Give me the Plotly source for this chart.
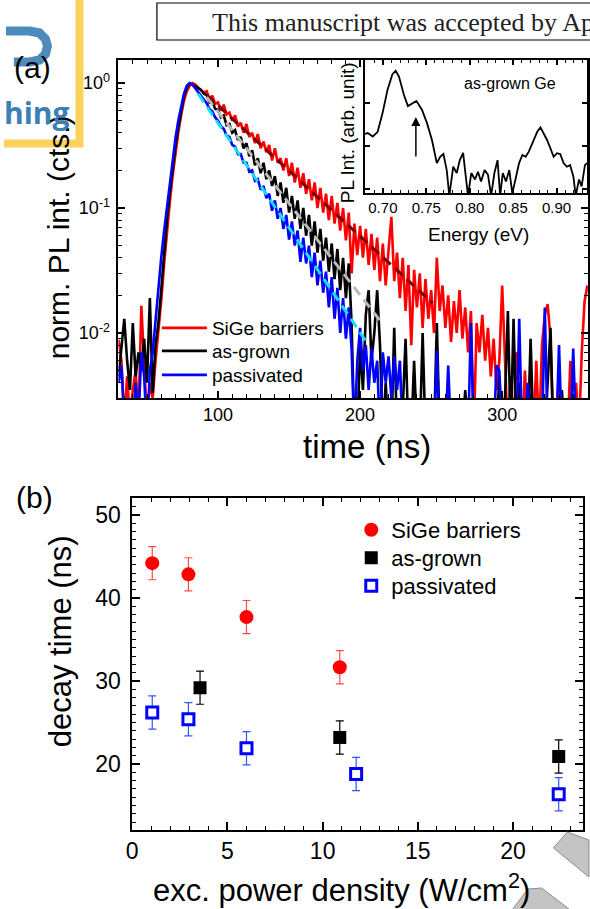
import plotly.graph_objects as go

W, H = 590, 909
FONT = "Liberation Sans, Arial, sans-serif"


def px(x):
    return x / W


def py(y):
    return 1 - y / H


# ---------------- panel (a): PL transients ----------------
time_ns = list(range(30, 362, 2))

pl_sige = [
    0.0088, 0.0060, 0.0020, 0.0045, 0.0020, 0.0035, 0.0050, 0.0020, 0.0165, 0.0060,
    0.0020, 0.0040, 0.0030, 0.0060, 0.0100, 0.0180, 0.035, 0.065, 0.11, 0.18,
    0.28, 0.40, 0.55, 0.72, 0.86, 0.95, 1.00, 0.97, 0.92, 0.88,
    0.84, 0.86, 0.74, 0.79, 0.68, 0.70, 0.60, 0.67, 0.56, 0.58,
    0.50, 0.55, 0.45, 0.48, 0.40, 0.47, 0.37, 0.40, 0.33, 0.39,
    0.30, 0.34, 0.28, 0.32, 0.24, 0.30, 0.23, 0.25, 0.20, 0.25,
    0.18, 0.23, 0.16, 0.21, 0.145, 0.19, 0.13, 0.17, 0.115, 0.16,
    0.10, 0.145, 0.092, 0.13, 0.080, 0.125, 0.075, 0.11, 0.066, 0.10,
    0.055, 0.092, 0.030, 0.075, 0.042, 0.072, 0.040, 0.068, 0.035, 0.062,
    0.032, 0.058, 0.026, 0.052, 0.024, 0.046, 0.085, 0.026, 0.044, 0.019,
    0.040, 0.015, 0.035, 0.008, 0.032, 0.016, 0.030, 0.011, 0.027, 0.013,
    0.022, 0.010, 0.040, 0.015, 0.024, 0.011, 0.020, 0.0085, 0.018, 0.010,
    0.022, 0.009, 0.016, 0.007, 0.015, 0.0015, 0.012, 0.007, 0.014, 0.006,
    0.011, 0.0045, 0.009, 0.0035, 0.006, 0.024, 0.004, 0.0015, 0.0045, 0.0015,
    0.007, 0.0035, 0.0015, 0.005, 0.0015, 0.004, 0.0015, 0.006, 0.0015, 0.008,
    0.014, 0.017, 0.009, 0.0015, 0.0015, 0.005, 0.0015, 0.003, 0.0015, 0.006,
    0.0015, 0.004, 0.0015, 0.007, 0.018, 0.024,
]

pl_asgrown = [
    0.0045, 0.0075, 0.013, 0.006, 0.0035, 0.012, 0.0045, 0.0070, 0.0050, 0.0090,
    0.0040, 0.019, 0.0033, 0.0080, 0.012, 0.022, 0.045, 0.08, 0.13, 0.21,
    0.31, 0.44, 0.60, 0.78, 0.92, 0.99, 0.97, 0.94, 0.92, 0.88,
    0.82, 0.80, 0.70, 0.71, 0.62, 0.61, 0.53, 0.55, 0.46, 0.47,
    0.40, 0.42, 0.35, 0.37, 0.30, 0.33, 0.26, 0.29, 0.22, 0.25,
    0.19, 0.23, 0.17, 0.20, 0.15, 0.18, 0.125, 0.16, 0.11, 0.145,
    0.092, 0.125, 0.082, 0.115, 0.068, 0.10, 0.060, 0.088, 0.050, 0.078,
    0.044, 0.068, 0.038, 0.058, 0.031, 0.052, 0.027, 0.047, 0.022, 0.040,
    0.019, 0.036, 0.012, 0.0015, 0.0015, 0.008, 0.0035, 0.014, 0.022, 0.006,
    0.010, 0.022, 0.008, 0.0015, 0.004, 0.0015, 0.0015, 0.011, 0.0015, 0.0015,
    0.0025, 0.009, 0.0015, 0.0015, 0.006, 0.0015, 0.0015, 0.010, 0.0015, 0.0015,
    0.0015, 0.0015, 0.012, 0.0015, 0.0015, 0.0025, 0.0015, 0.0015, 0.0015, 0.0015,
    0.0015, 0.0015, 0.0035, 0.0015, 0.0015, 0.0015, 0.0015, 0.0015, 0.0015, 0.0015,
    0.0015, 0.0015, 0.0025, 0.0015, 0.0045, 0.0015, 0.0030, 0.015, 0.0015, 0.013,
    0.0015, 0.0040, 0.0015, 0.0015, 0.0015, 0.009, 0.0015, 0.0015, 0.0015, 0.0015,
    0.0015, 0.0040, 0.011, 0.0015, 0.0015, 0.0015, 0.0035, 0.0015, 0.0015, 0.0015,
    0.0015, 0.0015, 0.0015, 0.0015, 0.0015, 0.0015,
]

pl_pass = [
    0.0040, 0.0055, 0.0020, 0.0015, 0.0030, 0.0015, 0.0040, 0.0020, 0.0070, 0.0045,
    0.0015, 0.0050, 0.0070, 0.013, 0.024, 0.040, 0.065, 0.10, 0.16, 0.25,
    0.36, 0.50, 0.66, 0.82, 0.95, 1.00, 0.97, 0.91, 0.85, 0.79,
    0.74, 0.69, 0.62, 0.59, 0.53, 0.50, 0.45, 0.43, 0.38, 0.37,
    0.32, 0.31, 0.27, 0.27, 0.23, 0.23, 0.195, 0.20, 0.165, 0.17,
    0.14, 0.15, 0.12, 0.13, 0.095, 0.115, 0.082, 0.10, 0.068, 0.088,
    0.056, 0.078, 0.050, 0.066, 0.037, 0.058, 0.036, 0.050, 0.028, 0.044,
    0.024, 0.038, 0.021, 0.031, 0.016, 0.028, 0.013, 0.023, 0.010, 0.019,
    0.009, 0.016, 0.0075, 0.0015, 0.006, 0.011, 0.005, 0.008, 0.0035, 0.0075,
    0.004, 0.006, 0.0015, 0.007, 0.004, 0.0065, 0.003, 0.0065, 0.0035, 0.006,
    0.0015, 0.0015, 0.0015, 0.0015, 0.0015, 0.0015, 0.0015, 0.0015, 0.0015, 0.0015,
    0.0015, 0.0015, 0.0072, 0.0015, 0.0015, 0.0015, 0.0055, 0.0015, 0.0015, 0.0015,
    0.0015, 0.0015, 0.0015, 0.0015, 0.012, 0.0015, 0.0015, 0.0015, 0.0015, 0.0015,
    0.0015, 0.0015, 0.0015, 0.0055, 0.0050, 0.0015, 0.0015, 0.0015, 0.0015, 0.0015,
    0.0015, 0.013, 0.0015, 0.0015, 0.0040, 0.0015, 0.0015, 0.0015, 0.0015, 0.0015,
    0.016, 0.0015, 0.0015, 0.0015, 0.0015, 0.008, 0.0015, 0.0015, 0.0015, 0.0015,
    0.0075, 0.0015, 0.0015, 0.0015, 0.0015, 0.0015,
]

# exponential fits (end points of the straight lines on the log scale)
fit_sige_t = [92, 251]
fit_sige_y = [0.80, 0.0174]
fit_asgrown_t = [92, 214.6]
fit_asgrown_y = [0.77, 0.0123]
fit_pass_t = [86, 206]
fit_pass_y = [0.82, 0.0080]

# inset: PL spectrum of as-grown Ge
energy_ev = [0.6795, 0.6826, 0.6883, 0.6940, 0.6997, 0.7053, 0.7110, 0.7148, 0.7186, 0.7242,
             0.7288, 0.7337, 0.7386, 0.7451, 0.7508, 0.7565, 0.7621, 0.7660, 0.7697, 0.7735,
             0.7765, 0.7810, 0.7850, 0.7886, 0.7924, 0.7950, 0.7980, 0.8018, 0.8060, 0.8095,
             0.8130, 0.8171, 0.8210, 0.8246, 0.8284, 0.8320, 0.8350, 0.8380, 0.8417, 0.8455,
             0.8490, 0.8530, 0.8568, 0.8606, 0.8644, 0.8680, 0.8739, 0.8777, 0.8814, 0.8852,
             0.8890, 0.8928, 0.8966, 0.9004, 0.9042, 0.9080, 0.9117, 0.9155, 0.9193, 0.9220,
             0.9258, 0.9288, 0.9326, 0.9350]
pl_spec = [19, 20, 16.6, 21.4, 59, 200, 468, 562, 407, 155,
           85, 98, 112, 69, 34, 13.8, 4.0, 5.6, 6.5, 2.75,
           0.7, 3.3, 2.35, 4.7, 6.9, 2.35, 0.7, 2.35, 1.66, 2.5,
           1.5, 2.75, 2.14, 0.7, 2.35, 4.7, 0.7, 2.35, 1.5, 2.75,
           0.8, 1.8, 4.0, 6.2, 5.6, 7.4, 13.8, 21.4, 27, 20,
           13.8, 8.9, 5.6, 6.8, 6.5, 4.0, 3.3, 3.6, 1.95, 0.7,
           1.66, 1.15, 3.6, 4.0]
arrow_energy = 0.738

# ---------------- panel (b): decay times ----------------
power_sige = [1.05, 2.95, 6.0, 10.9]
tau_sige = [44.2, 42.85, 37.7, 31.65]
err_sige = [2.0, 2.0, 2.0, 2.0]
power_asgrown = [3.56, 10.9, 22.4]
tau_asgrown = [29.2, 23.2, 20.9]
err_asgrown = [2.0, 2.0, 2.0]
power_pass = [1.05, 2.95, 6.0, 11.76, 22.4]
tau_pass = [26.2, 25.4, 21.9, 18.8, 16.35]
err_pass = [2.0, 2.0, 2.0, 2.0, 2.0]

RED, BLACK, BLUE = "#ff0000", "#000000", "#0000ff"

fig = go.Figure()

# transients (each legend entry gets its own legend box so rows can be placed freely)
for name, yv, col, lg in [("SiGe barriers", pl_sige, RED, "legend"),
                          ("as-grown", pl_asgrown, BLACK, "legend2"),
                          ("passivated", pl_pass, BLUE, "legend3")]:
    fig.add_trace(go.Scatter(x=time_ns, y=yv, mode="lines", name=name,
                             line=dict(color=col, width=2.6),
                             xaxis="x", yaxis="y", legend=lg))

for tx, ty, col in [(fit_sige_t, fit_sige_y, "#7a0000"),
                    (fit_asgrown_t, fit_asgrown_y, "#b9b9b9"),
                    (fit_pass_t, fit_pass_y, "#10e0f0")]:
    fig.add_trace(go.Scatter(x=tx, y=ty, mode="lines", showlegend=False,
                             line=dict(color=col, width=3, dash="10px,6px"),
                             xaxis="x", yaxis="y"))

# inset spectrum
fig.add_trace(go.Scatter(x=energy_ev, y=pl_spec, mode="lines", showlegend=False,
                         line=dict(color="black", width=1.8),
                         xaxis="x2", yaxis="y2"))

# decay times
fig.add_trace(go.Scatter(x=power_sige, y=tau_sige, mode="markers", name="SiGe barriers",
                         marker=dict(symbol="circle", size=14, color=RED),
                         error_y=dict(type="data", array=err_sige, color="#ff4a4a",
                                      thickness=1.2, width=4),
                         xaxis="x3", yaxis="y3", legend="legend4"))
fig.add_trace(go.Scatter(x=power_asgrown, y=tau_asgrown, mode="markers", name="as-grown",
                         marker=dict(symbol="square", size=13, color=BLACK),
                         error_y=dict(type="data", array=err_asgrown, color="#000000",
                                      thickness=1.2, width=4),
                         xaxis="x3", yaxis="y3", legend="legend5"))
fig.add_trace(go.Scatter(x=power_pass, y=tau_pass, mode="markers", name="passivated",
                         marker=dict(symbol="square", size=11, color="white",
                                     line=dict(color=BLUE, width=3)),
                         error_y=dict(type="data", array=err_pass, color="#3355ff",
                                      thickness=1.2, width=4),
                         xaxis="x3", yaxis="y3", legend="legend6"))

axis_common = dict(showline=True, linecolor="black", linewidth=1.5, mirror="ticks",
                   ticks="inside", tickcolor="black", tickwidth=1.5, showgrid=False,
                   zeroline=False)

y_minor_a = [0.002, 0.003, 0.004, 0.005, 0.006, 0.007, 0.008, 0.009,
             0.02, 0.03, 0.04, 0.05, 0.06, 0.07, 0.08, 0.09,
             0.2, 0.3, 0.4, 0.5, 0.6, 0.7, 0.8, 0.9]


def label(text, x, y, size, angle=0, color="black", family=FONT, xanchor="center"):
    return dict(text=text, x=px(x), y=py(y), xref="paper", yref="paper",
                xanchor=xanchor, yanchor="middle", showarrow=False, textangle=angle,
                font=dict(size=size, family=family, color=color))


annotations = [
    label("(a)", 27, 68, 30),
    label("(b)", 29, 497, 30),
    label("time (ns)", 366, 446, 33),
    label("norm. PL int. (cts.)", 54, 237, 30, angle=-90),
    label("Energy (eV)", 479, 234, 19),
    label("PL Int. (arb. unit)", 347, 133, 19, angle=-90),
    label("as-grown Ge", 511, 83, 16),
    label("exc. power density (W/cm<sup>2</sup>)", 340, 888, 31),
    label("decay time (ns)", 55, 641, 31, angle=-90),
    label("This manuscript was accepted by Appl. Phys. Lett.", 207, 22, 26,
          family="Liberation Serif, Times New Roman, serif", color="#222", xanchor="left"),
    label("<b>hing</b>", 67, 112, 30, color="#3a7fb5",
          family="Open Sans, Liberation Sans, sans-serif", xanchor="right"),
    dict(text="", x=arrow_energy, y=1.674, xref="x2", yref="y2",
         ax=arrow_energy, ay=0.72, axref="x2", ayref="y2", showarrow=True,
         arrowhead=2, arrowsize=1.2, arrowwidth=1.5, arrowcolor="black"),
]


def path(points):
    return "M " + " L ".join(f"{px(x):.5f},{py(y):.5f}" for x, y in points)


shapes = [
    dict(type="rect", xref="paper", yref="paper", x0=px(153), x1=px(640), y0=py(40), y1=py(3),
         line=dict(color="black", width=1.2), layer="above"),
    dict(type="path", xref="paper", yref="paper", path=path([(74.5, -2), (74.5, 143.5), (-2, 143.5)]),
         line=dict(color="#fcd25c", width=8), layer="above"),
    dict(type="path", xref="paper", yref="paper",
         path=path([(0, 31), (24, 31), (34, 33), (40, 39), (42, 46), (40, 54), (34, 60), (24, 62), (8, 62)]),
         line=dict(color="#3a7fb5", width=9), opacity=0.9, layer="above"),
    dict(type="path", xref="paper", yref="paper",
         path=path([(555, 848), (569, 832), (591, 840), (591, 877)]) + " Z",
         fillcolor="#c4c4c4", line=dict(color="#8c8c8c", width=1), layer="above"),
    dict(type="path", xref="paper", yref="paper",
         path=path([(513, 910), (529, 889), (543, 888), (572, 910)]) + " Z",
         fillcolor="#c4c4c4", line=dict(color="#8c8c8c", width=1), layer="above"),
]


def legend_at(x, y, size, itemwidth=30):
    return dict(x=px(x), y=py(y), xanchor="left", yanchor="middle", bgcolor="rgba(0,0,0,0)",
                font=dict(size=size), itemwidth=itemwidth, tracegroupgap=0, borderwidth=0)


fig.update_layout(
    width=W, height=H, autosize=False,
    margin=dict(l=0, r=0, t=0, b=0),
    paper_bgcolor="white", plot_bgcolor="white",
    font=dict(family=FONT, color="black"),
    xaxis=dict(axis_common, domain=[px(114), 1.0], range=[29.9, 360.4], anchor="y",
               dtick=100, tick0=0, ticklen=7, tickfont=dict(size=18),
               minor=dict(ticks="inside", dtick=10, tick0=0, ticklen=4, tickcolor="black", tickwidth=1.2)),
    yaxis=dict(axis_common, type="log", domain=[py(398), py(60)], range=[-2.52, 0.184], anchor="x",
               tickvals=[0.01, 0.1, 1], ticktext=["10<sup>-2</sup>", "10<sup>-1</sup>", "10<sup>0</sup>"],
               ticklen=7, tickfont=dict(size=18), ticklabelstandoff=3,
               minor=dict(ticks="inside", tickmode="array", tickvals=y_minor_a, ticklen=4,
                          tickcolor="black", tickwidth=1.2)),
    xaxis2=dict(axis_common, domain=[px(364), px(589)], range=[0.6795, 0.935], anchor="y2",
                dtick=0.05, tick0=0.7, tickformat=".2f", ticklen=5, tickfont=dict(size=15),
                minor=dict(ticks="inside", dtick=0.01, ticklen=3, tickcolor="black", tickwidth=1)),
    yaxis2=dict(axis_common, type="log", domain=[py(193), py(60)], range=[-0.093, 3.0], anchor="x2",
                tickvals=[1, 10, 100], showticklabels=False, ticklen=5),
    xaxis3=dict(axis_common, domain=[px(128), px(585)], range=[0, 23.68], anchor="y3",
                dtick=5, tick0=0, ticklen=8, tickfont=dict(size=23),
                minor=dict(ticks="inside", dtick=1, ticklen=4, tickcolor="black", tickwidth=1.2)),
    yaxis3=dict(axis_common, domain=[py(830), py(498)], range=[12.05, 52.05], anchor="x3",
                dtick=10, tick0=0, ticklen=8, tickfont=dict(size=23), ticklabelstandoff=5,
                minor=dict(ticks="inside", dtick=1, ticklen=4, tickcolor="black", tickwidth=1.2)),
    legend=legend_at(153, 328, 19, 45),
    legend2=legend_at(153, 351, 19, 45),
    legend3=legend_at(153, 375, 19, 45),
    legend4=legend_at(350, 530, 22),
    legend5=legend_at(350, 558, 22),
    legend6=legend_at(350, 586, 22),
    annotations=annotations,
    shapes=shapes,
)

fig.write_html("out.html", config={"displayModeBar": False},
               post_script="document.body.style.margin='0px';")
